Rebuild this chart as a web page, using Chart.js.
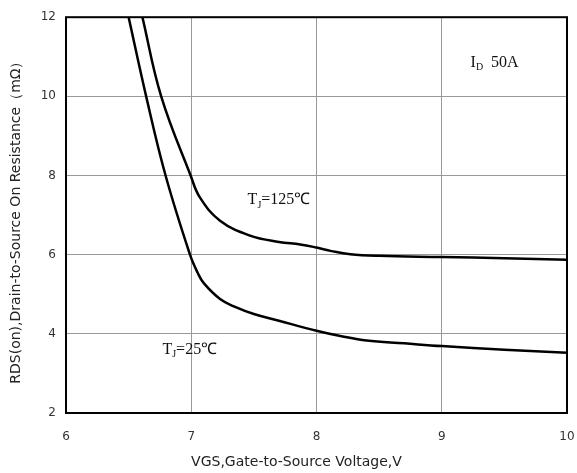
<!DOCTYPE html>
<html>
<head>
<meta charset="utf-8">
<script src="https://cdn.jsdelivr.net/npm/chart.js@4"></script>
<style>
  html, body { margin: 0; padding: 0; background: #fff; }
  #wrap { width: 577px; height: 473px; }
</style>
</head>
<body>
<div id="wrap"><canvas id="rdsChart" width="577" height="473"></canvas></div>
<script>
// VGS (V) and RDS(on) (mOhm)
const vgsHot = [6.61, 6.76, 6.995, 7.07, 7.23, 7.47, 7.7, 7.87, 8.0, 8.12, 8.27, 8.5, 9.0, 9.5, 10.0];
const rdsHot = [12, 10, 8, 7.44, 6.86, 6.48, 6.32, 6.26, 6.18, 6.09, 6.01, 5.97, 5.94, 5.91, 5.87];
const vgsCold = [6.5, 6.64, 6.795, 6.99, 7.05, 7.1, 7.23, 7.35, 7.5, 7.7, 8.0, 8.2, 8.4, 8.7, 9.0, 9.5, 10.0];
const rdsCold = [12, 10, 8, 6, 5.55, 5.28, 4.88, 4.68, 4.5, 4.33, 4.08, 3.94, 3.83, 3.76, 3.69, 3.6, 3.52];
const xTicks = [6, 7, 8, 9, 10];
const yTicks = [2, 4, 6, 8, 10, 12];

const xTitle = "VGS,Gate-to-Source Voltage,V";
const yTitle = "RDS(on),Drain-to-Source On Resistance\uff08m\u03a9\uff09";

// curve labels, placed in data units
const notes = [
  { x: 7.45, y: 7.38, main: "T", sub: "J", rest: "=125\u2103" },
  { x: 6.77, y: 3.6, main: "T", sub: "J", rest: "=25\u2103" },
  { x: 9.23, y: 10.86, main: "I", sub: "D", rest: "  50A" }
];

function toPoints(xs, ys) {
  return xs.map((x, i) => ({ x: x, y: ys[i] }));
}

const notePlugin = {
  id: "notes",
  afterDraw(chart) {
    const ctx = chart.ctx;
    const sx = chart.scales.x, sy = chart.scales.y;
    const area = chart.chartArea;
    ctx.save();
    // frame
    ctx.strokeStyle = "#000";
    ctx.lineWidth = 2;
    ctx.strokeRect(area.left, area.top, area.right - area.left, area.bottom - area.top);

    ctx.fillStyle = "#111";
    ctx.textBaseline = "middle";
    ctx.textAlign = "left";
    for (const n of notes) {
      let px = sx.getPixelForValue(n.x);
      const py = sy.getPixelForValue(n.y);
      ctx.font = "16px 'Liberation Serif'";
      ctx.fillText(n.main, px, py);
      px += ctx.measureText(n.main).width;
      ctx.font = "10px 'Liberation Serif'";
      ctx.fillText(n.sub, px, py + 5);
      px += ctx.measureText(n.sub).width;
      ctx.font = "16px 'Liberation Serif'";
      ctx.fillText(n.rest, px, py);
    }

    // axis titles
    ctx.fillStyle = "#222";
    ctx.textAlign = "center";
    ctx.font = "14px 'DejaVu Sans'";
    ctx.fillText(xTitle, chart.width / 2 + 8, chart.height - 11);
    ctx.translate(16, (area.top + area.bottom) / 2 + 4);
    ctx.rotate(-Math.PI / 2);
    ctx.font = "14px 'DejaVu Sans'";
    ctx.fillText(yTitle, 0, 0);
    ctx.restore();
  }
};

new Chart(document.getElementById("rdsChart"), {
  type: "line",
  data: {
    datasets: [{
      label: "TJ=125",
      data: toPoints(vgsHot, rdsHot),
      borderColor: "#000",
      borderWidth: 2.5,
      pointRadius: 0,
      tension: 0.4,
      fill: false
    }, {
      label: "TJ=25",
      data: toPoints(vgsCold, rdsCold),
      borderColor: "#000",
      borderWidth: 2.5,
      pointRadius: 0,
      tension: 0.4,
      fill: false
    }]
  },
  options: {
    responsive: false,
    animation: false,
    layout: { padding: { top: 14, right: 10, left: 0, bottom: 0 } },
    plugins: {
      legend: { display: false },
      tooltip: { enabled: false }
    },
    scales: {
      x: {
        type: "linear",
        min: 6,
        max: 10,
        afterBuildTicks: s => { s.ticks = xTicks.map(v => ({ value: v })); },
        afterFit: s => { s.height = 60; s.paddingLeft = 0; s.paddingRight = 0; },
        grid: { color: "#999", lineWidth: 1, drawTicks: false },
        border: { display: false },
        ticks: {
          color: "#333",
          padding: 17,
          font: { family: "'DejaVu Sans'", size: 12 }
        }
      },
      y: {
        min: 2,
        max: 12,
        afterBuildTicks: s => { s.ticks = yTicks.map(v => ({ value: v })); },
        afterFit: s => { s.width = 66; },
        grid: { color: "#999", lineWidth: 1, drawTicks: false },
        border: { display: false },
        ticks: {
          color: "#333",
          padding: 10,
          font: { family: "'DejaVu Sans'", size: 12 }
        }
      }
    }
  },
  plugins: [notePlugin]
});
</script>
</body>
</html>
